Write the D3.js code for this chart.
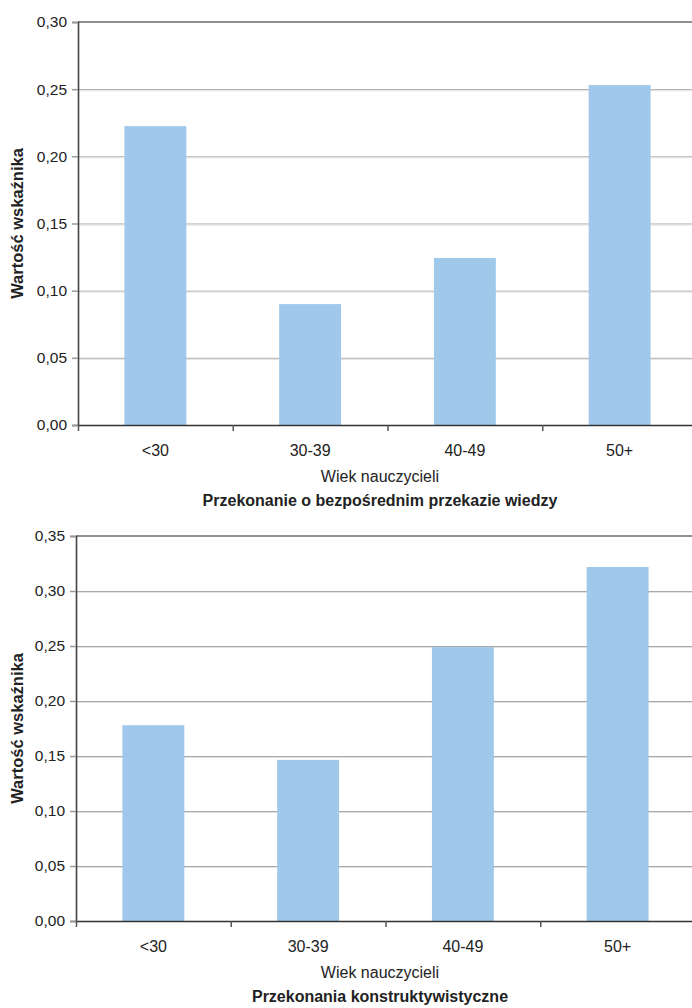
<!DOCTYPE html>
<html><head><meta charset="utf-8">
<script src="https://cdn.jsdelivr.net/npm/d3@7"></script>
<style>body{margin:0;background:#fff}svg{display:block;font-family:"Liberation Sans",Arial,Helvetica,sans-serif}</style>
</head><body><svg id="c" width="692" height="1008"></svg>
<script>
const categories = ["<30", "30-39", "40-49", "50+"];
const values1 = [0.2225, 0.0900, 0.1243, 0.2530];
const values2 = [0.1780, 0.1465, 0.2490, 0.3218];
const ticks1 = [0, 0.05, 0.10, 0.15, 0.20, 0.25, 0.30];
const ticks2 = [0, 0.05, 0.10, 0.15, 0.20, 0.25, 0.30, 0.35];
const xTitle = "Wiek nauczycieli";
const yTitle = "Wartość wskaźnika";
const title1 = "Przekonanie o bezpośrednim przekazie wiedzy";
const title2 = "Przekonania konstruktywistyczne";

const svg = d3.select("#c");
const fmt = v => d3.format(".2f")(v).replace(".", ",");

function chart(o){
  const g = svg.append("g");
  const x = d3.scaleBand().domain(categories).range([o.left, o.left + 619]).paddingInner(0.6).paddingOuter(0.3);
  const y = d3.scaleLinear().domain([0, o.max]).range([o.bottom, o.top]);
  o.ticks.slice(1, -1).forEach(t => {
    g.append("line").attr("x1", o.left).attr("x2", 692).attr("y1", y(t)+0.5).attr("y2", y(t)+0.5).attr("stroke", "#a8a8a8").attr("stroke-width", 1);
    g.append("line").attr("x1", o.left).attr("x2", 692).attr("y1", y(t)+1.5).attr("y2", y(t)+1.5).attr("stroke", "#e2e2e2").attr("stroke-width", 1);
  });
  g.append("line").attr("x1", o.left).attr("x2", 692).attr("y1", y(o.max)).attr("y2", y(o.max)).attr("stroke", "#222").attr("stroke-width", 1.2);
  g.selectAll("rect").data(o.values).join("rect")
    .attr("x", (d,i) => x(categories[i])).attr("width", x.bandwidth())
    .attr("y", d => y(d)).attr("height", d => y(0) - y(d)).attr("fill", "#9fc8eb");
  const ya = g.append("g").attr("transform", `translate(${o.left},0)`)
    .call(d3.axisLeft(y).tickValues(o.ticks).tickFormat(fmt).tickSize(6).tickPadding(5));
  ya.select(".domain").attr("stroke", "#444").attr("stroke-width", 1.6);
  ya.selectAll(".tick line").attr("stroke", "#999").attr("stroke-width", 1.5);
  ya.selectAll("text").attr("font-size", 15.5).attr("fill", "#222").attr("font-family", "Liberation Sans, Arial, sans-serif");
  const xb = d3.scaleLinear().domain([0, 4]).range([o.left, o.left + 619]);
  const xa = g.append("g").attr("transform", `translate(0,${o.bottom})`)
    .call(d3.axisBottom(xb).tickValues([0,1,2,3,4]).tickFormat("").tickSize(6).tickSizeOuter(0));
  xa.select(".domain").attr("stroke", "#333").attr("stroke-width", 1.6);
  xa.selectAll(".tick line").attr("stroke", "#555").attr("stroke-width", 1.5);
  g.selectAll(".xl").data(categories).join("text").attr("class", "xl")
    .attr("x", d => x(d) + x.bandwidth()/2).attr("y", o.bottom + 31)
    .attr("text-anchor", "middle").attr("font-size", 16).attr("fill", "#222").text(d => d);
  g.append("text").attr("x", 380).attr("y", o.bottom + 57).attr("text-anchor", "middle")
    .attr("font-size", 16).attr("fill", "#222").text(xTitle);
  g.append("text").attr("x", 380).attr("y", o.bottom + o.titleDy).attr("text-anchor", "middle")
    .attr("font-size", 16).attr("font-weight", "bold").attr("fill", "#222").text(o.title);
  g.append("text").attr("transform", `translate(23,${(o.top + o.bottom)/2}) rotate(-90)`)
    .attr("text-anchor", "middle").attr("font-size", 16.5).attr("font-weight", "bold").attr("fill", "#222").text(yTitle);
}

chart({values: values1, ticks: ticks1, max: 0.30, top: 22, bottom: 425, left: 78, title: title1, titleDy: 81});
chart({values: values2, ticks: ticks2, max: 0.35, top: 536, bottom: 921, left: 76, title: title2, titleDy: 81});
</script></body></html>
